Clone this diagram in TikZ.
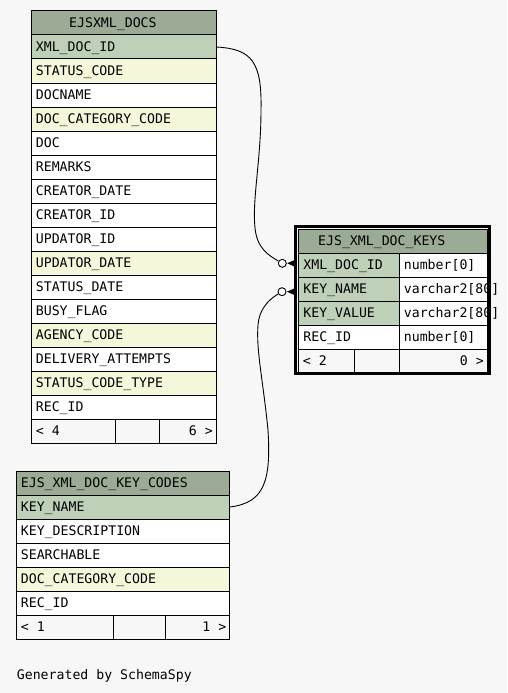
\documentclass[tikz,border=0pt]{standalone}
\usepackage{fontspec}
\newfontfamily\erfont{DejaVu Sans Mono}
\definecolor{hdrc}{HTML}{9BAB96}
\definecolor{pkc}{HTML}{BED1B8}
\definecolor{idxc}{HTML}{F4F7DA}
\definecolor{bgc}{HTML}{F7F7F7}
\newcommand\erow[6]{%
  \node[#1, minimum width=#5pt] (#2) at (#3,#4) {};
  \node[txt] at ([xshift=4.7pt,yshift=-4.8pt]#2.west) {#6};}
\begin{document}
\begin{tikzpicture}[x=1pt,y=-1pt,
  every node/.style={font=\erfont\fontsize{13.2pt}{15pt}\selectfont},
  cell/.style={draw=black, line width=1pt, inner sep=0pt, outer sep=0pt, minimum height=24pt, anchor=north west},
  hdr/.style={cell, fill=hdrc},
  pk/.style={cell, fill=pkc},
  idx/.style={cell, fill=idxc},
  plainrow/.style={cell, fill=white},
  foot/.style={cell, fill=bgc},
  txt/.style={anchor=base west, inner sep=0pt},
  txtr/.style={anchor=base east, inner sep=0pt},
  conn/.style={draw=black, line width=0.9pt},
  ring/.style={circle, draw=black, fill=white, line width=0.9pt, minimum size=8pt, inner sep=0pt},
]
\useasboundingbox (0,0) rectangle (507,693);
\fill[bgc] (0,0) rectangle (507,693);

% ---------- EJSXML_DOCS ----------
\node[hdr, minimum width=185.5pt] (t1h) at (31,11) {};
\node[txt] at (69,27.8) {EJSXML\_DOCS};
\erow{pk}{t1r0}{31}{35}{185.5}{XML\_DOC\_ID}
\erow{idx}{t1r1}{31}{59}{185.5}{STATUS\_CODE}
\erow{plainrow}{t1r2}{31}{83}{185.5}{DOCNAME}
\erow{idx}{t1r3}{31}{107}{185.5}{DOC\_CATEGORY\_CODE}
\erow{plainrow}{t1r4}{31}{131}{185.5}{DOC}
\erow{plainrow}{t1r5}{31}{155}{185.5}{REMARKS}
\erow{plainrow}{t1r6}{31}{179}{185.5}{CREATOR\_DATE}
\erow{plainrow}{t1r7}{31}{203}{185.5}{CREATOR\_ID}
\erow{plainrow}{t1r8}{31}{227}{185.5}{UPDATOR\_ID}
\erow{idx}{t1r9}{31}{251}{185.5}{UPDATOR\_DATE}
\erow{plainrow}{t1r10}{31}{275}{185.5}{STATUS\_DATE}
\erow{plainrow}{t1r11}{31}{299}{185.5}{BUSY\_FLAG}
\erow{idx}{t1r12}{31}{323}{185.5}{AGENCY\_CODE}
\erow{plainrow}{t1r13}{31}{347}{185.5}{DELIVERY\_ATTEMPTS}
\erow{idx}{t1r14}{31}{371}{185.5}{STATUS\_CODE\_TYPE}
\erow{plainrow}{t1r15}{31}{395}{185.5}{REC\_ID}
\node[foot, minimum width=84pt] (t1f1) at (31,419) {};
\node[foot, minimum width=44pt] (t1f2) at (115,419) {};
\node[foot, minimum width=57.5pt] (t1f3) at (159,419) {};
\node[txt] at (35.7,435.8) {< 4};
\node[txtr] at (213,435.8) {6 >};

% ---------- EJS_XML_DOC_KEYS ----------
\node[hdr, minimum width=188.5pt] (t2h) at (298.5,229) {};
\node[txt] at (318,245.8) {EJS\_XML\_DOC\_KEYS};
\erow{pk}{t2r0}{298.5}{253}{100.5}{XML\_DOC\_ID}
\erow{plainrow}{t2c0}{399}{253}{88}{number[0]}
\erow{pk}{t2r1}{298.5}{277}{100.5}{KEY\_NAME}
\erow{plainrow}{t2c1}{399}{277}{88}{varchar2[80]}
\erow{pk}{t2r2}{298.5}{301}{100.5}{KEY\_VALUE}
\erow{plainrow}{t2c2}{399}{301}{88}{varchar2[80]}
\erow{plainrow}{t2r3}{298.5}{325}{100.5}{REC\_ID}
\erow{plainrow}{t2c3}{399}{325}{88}{number[0]}
\node[foot, minimum width=55.5pt] (t2f1) at (298.5,349) {};
\node[foot, minimum width=45pt] (t2f2) at (354,349) {};
\node[foot, minimum width=88pt] (t2f3) at (399,349) {};
\node[txt] at (302.7,365.8) {< 2};
\node[txtr] at (484,365.8) {0 >};

% ---------- EJS_XML_DOC_KEY_CODES ----------
\node[hdr, minimum width=213.5pt] (t3h) at (16,471) {};
\node[txt] at (20.7,487.8) {EJS\_XML\_DOC\_KEY\_CODES};
\erow{pk}{t3r0}{16}{495}{213.5}{KEY\_NAME}
\erow{plainrow}{t3r1}{16}{519}{213.5}{KEY\_DESCRIPTION}
\erow{plainrow}{t3r2}{16}{543}{213.5}{SEARCHABLE}
\erow{idx}{t3r3}{16}{567}{213.5}{DOC\_CATEGORY\_CODE}
\erow{plainrow}{t3r4}{16}{591}{213.5}{REC\_ID}
\node[foot, minimum width=97.7pt] (t3f1) at (16,615) {};
\node[foot, minimum width=52pt] (t3f2) at (113.7,615) {};
\node[foot, minimum width=63.8pt] (t3f3) at (165.7,615) {};
\node[txt] at (20.7,631.8) {< 1};
\node[txtr] at (226.5,631.8) {1 >};

\node[txt] (gen) at (16.7,679) {Generated by SchemaSpy};

% ---------- connectors ----------
\node[ring] (o1) at (282.3,263.3) {};
\node[ring] (o2) at (282,291.7) {};
\draw[conn] (t1r0.east) .. controls (252,49) and (262,62) .. (261,110)
  .. controls (261,160) and (252,200) .. (255,228)
  .. controls (257,248) and (268,255) .. (o1);
\draw[conn] (t3r0.east) .. controls (265,503) and (271,480) .. (268,430)
  .. controls (263,380) and (256,350) .. (258,325)
  .. controls (259,310) and (268,300) .. (o2);
\fill ([xshift=0.5pt]o1.east) -- (295,259.8) -- (295,266.8) -- cycle;
\fill ([xshift=0.5pt]o2.east) -- (295,288.2) -- (295,295.2) -- cycle;

% frame of the focused table
\draw[line width=1pt] (487,229) -- (487,373);
\draw[line width=3pt] (295.6,226.7) rectangle (489.4,373.4);
\end{tikzpicture}
\end{document}
